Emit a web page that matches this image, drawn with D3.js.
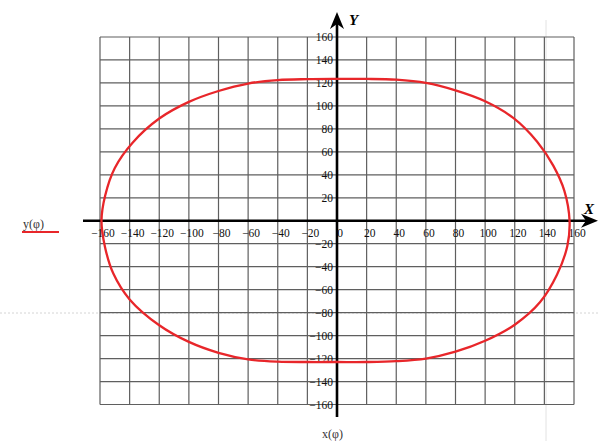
<!DOCTYPE html>
<html>
<head>
<meta charset="utf-8">
<script src="https://cdn.jsdelivr.net/npm/d3@7/dist/d3.min.js"></script>
<style>
  html, body { margin: 0; padding: 0; background: #fff; }
  svg { display: block; }
  text { font-family: "Liberation Serif", "DejaVu Serif", serif; }
</style>
</head>
<body>
<svg id="chart" width="598" height="441"></svg>
<script>
// ---- data ----
const xTicks = [-160,-140,-120,-100,-80,-60,-40,-20,0,20,40,60,80,100,120,140,160];
const yTicks = [-160,-140,-120,-100,-80,-60,-40,-20,20,40,60,80,100,120,140,160];
// samples of the closed curve x(phi), y(phi)
const xPhi = [157, 153.5, 146, 135, 119, 100, 80, 60, 40, 20, 0,
  -20, -40, -60, -80, -100, -120, -138, -150, -156.5, -159,
  -156.6, -151, -140, -120, -100, -80, -60, -40, -20, 0,
  20, 40, 60, 80, 100, 120, 137, 148.5, 155.5];
const yPhi = [0, 26, 48, 69, 89.5, 104, 113.5, 120, 122.8, 123.5, 123.5,
  123.3, 122.5, 119.5, 113, 103.5, 89, 68, 46, 22, 0,
  -23, -46, -68.5, -91, -105.5, -115, -120.7, -122.7, -123, -123,
  -123, -122.3, -120, -114, -104.5, -90.5, -71, -47, -22];
const xLabel = "x(φ)";
const yLabel = "y(φ)";

const svg = d3.select("#chart");
const x = d3.scaleLinear().domain([-160, 160]).range([100, 574]);
const y = d3.scaleLinear().domain([-160, 160]).range([404.5, 37]);

// faint background artefacts
svg.append("line").attr("x1", 0).attr("x2", 598).attr("y1", 313).attr("y2", 313)
  .attr("stroke", "#d4d4d4").attr("stroke-width", 1).attr("stroke-dasharray", "2,2");
svg.append("line").attr("x1", 546).attr("x2", 546).attr("y1", 20).attr("y2", 441)
  .attr("stroke", "#e2e2e2").attr("stroke-width", 1);

// grid
const grid = svg.append("g").attr("stroke", "#5f5f5f").attr("stroke-width", 1.2);
grid.selectAll("line.v").data(xTicks).join("line")
  .attr("x1", d => x(d)).attr("x2", d => x(d)).attr("y1", y(160)).attr("y2", y(-160));
grid.selectAll("line.h").data(xTicks).join("line")
  .attr("y1", d => y(d)).attr("y2", d => y(d)).attr("x1", x(-160)).attr("x2", x(160));

// tick labels
const fmt = d => d < 0 ? "\u2212" + Math.abs(d) : String(d);
svg.append("g").selectAll("text").data(xTicks).join("text")
  .attr("x", d => x(d) + 3).attr("y", 237)
  .attr("text-anchor", "middle").attr("font-size", 11.5).attr("fill", "#111")
  .text(fmt);
svg.append("g").selectAll("text").data(yTicks).join("text")
  .attr("x", x(0) - 4).attr("y", d => y(d)).attr("dy", "0.35em")
  .attr("text-anchor", "end").attr("font-size", 11.5).attr("fill", "#111")
  .text(fmt);

// axes
svg.append("line").attr("x1", 83).attr("x2", 590).attr("y1", y(0)).attr("y2", y(0))
  .attr("stroke", "#000").attr("stroke-width", 2.6);
svg.append("line").attr("x1", x(0)).attr("x2", x(0)).attr("y1", 417).attr("y2", 20)
  .attr("stroke", "#000").attr("stroke-width", 2.6);
// arrowheads
const cx = x(0), cy = y(0);
svg.append("path")
  .attr("d", `M${cx},12 L${cx + 7},29 L${cx},24 L${cx - 7},29 Z`).attr("fill", "#000");
svg.append("path")
  .attr("d", `M598,${cy} L581,${cy - 7} L586,${cy} L581,${cy + 7} Z`).attr("fill", "#000");

svg.append("text").attr("x", 349).attr("y", 25).attr("font-size", 15)
  .attr("font-style", "italic").attr("font-weight", "bold").text("Y");
svg.append("text").attr("x", 584).attr("y", 214).attr("font-size", 15)
  .attr("font-style", "italic").attr("font-weight", "bold").text("X");

// curve
const pts = xPhi.map((v, i) => [v, yPhi[i]]);
svg.append("path").datum(pts)
  .attr("d", d3.line().x(d => x(d[0])).y(d => y(d[1])).curve(d3.curveCatmullRomClosed))
  .attr("fill", "none").attr("stroke", "#e8262a").attr("stroke-width", 2.3);

// legend
svg.append("text").attr("x", 23).attr("y", 228).attr("font-size", 12).attr("fill", "#333").text(yLabel);
svg.append("line").attr("x1", 22).attr("x2", 59).attr("y1", 232).attr("y2", 232)
  .attr("stroke", "#e8262a").attr("stroke-width", 2);
svg.append("text").attr("x", 322).attr("y", 438).attr("font-size", 12).attr("fill", "#333").text(xLabel);
</script>
</body>
</html>
